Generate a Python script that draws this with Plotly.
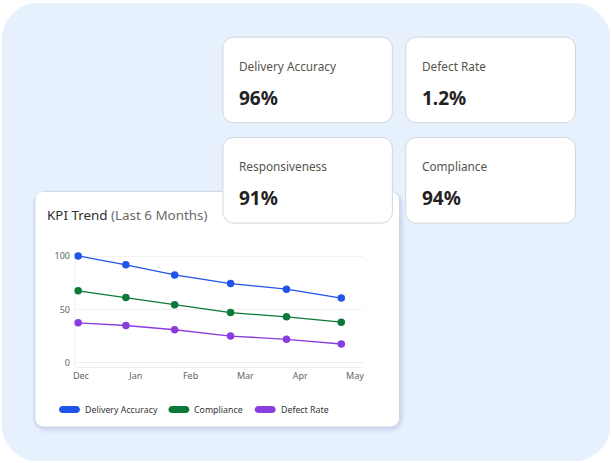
import plotly.graph_objects as go

W, H = 611, 463

# ---------------- data ----------------
months = ["Dec", "Jan", "Feb", "Mar", "Apr", "May"]
month_pos = [0, 1, 2, 3, 4, 5]
# sample positions along the month axis, as drawn
sample_pos = [-0.05, 0.82, 1.71, 2.73, 3.75, 4.75]
delivery_accuracy = [100.3, 91.9, 82.4, 74.3, 69.1, 60.7]
compliance = [67.5, 61.3, 54.5, 47.1, 43.1, 38.1]
defect_rate = [37.5, 35.0, 31.0, 25.1, 22.0, 17.6]
y_ticks = [0, 50, 100]

series_names = ["Delivery Accuracy", "Compliance", "Defect Rate"]
series_values = [delivery_accuracy, compliance, defect_rate]
series_colors = ["#2154e8", "#0b7a38", "#8a3ddf"]

kpi_labels = ["Delivery Accuracy", "Defect Rate", "Responsiveness", "Compliance"]
kpi_values = ["96%", "1.2%", "91%", "94%"]

FONT = "Noto Sans"


def X(x):
    return x / W


def Y(y):
    return 1 - y / H


def rr(x0, y0, x1, y1, r):
    k = 0.5523 * r
    pts = []
    pts.append(f"M{X(x0 + r)},{Y(y0)}")
    pts.append(f"L{X(x1 - r)},{Y(y0)}")
    pts.append(f"C{X(x1 - r + k)},{Y(y0)} {X(x1)},{Y(y0 + r - k)} {X(x1)},{Y(y0 + r)}")
    pts.append(f"L{X(x1)},{Y(y1 - r)}")
    pts.append(f"C{X(x1)},{Y(y1 - r + k)} {X(x1 - r + k)},{Y(y1)} {X(x1 - r)},{Y(y1)}")
    pts.append(f"L{X(x0 + r)},{Y(y1)}")
    pts.append(f"C{X(x0 + r - k)},{Y(y1)} {X(x0)},{Y(y1 - r + k)} {X(x0)},{Y(y1 - r)}")
    pts.append(f"L{X(x0)},{Y(y0 + r)}")
    pts.append(f"C{X(x0)},{Y(y0 + r - k)} {X(x0 + r - k)},{Y(y0)} {X(x0 + r)},{Y(y0)}")
    pts.append("Z")
    return " ".join(pts)


shapes = []
annotations = []

# outer background
shapes.append(dict(type="path", path=rr(0, 0, W, H, 36), xref="paper", yref="paper",
                   fillcolor="#e7f0fd", line=dict(width=0), layer="below"))

# chart card shadow + card
cx0, cy0, cx1, cy1 = 33.5, 191, 399, 428
for i, a in enumerate([0.035, 0.035, 0.04, 0.05]):
    s = 8 - 2 * i
    shapes.append(dict(type="path", path=rr(cx0 - s * 0.4, cy0 - s * 0.2, cx1 + s * 0.7, cy1 + s * 0.9, 8 + s),
                       xref="paper", yref="paper", fillcolor=f"rgba(60,80,130,{a})",
                       line=dict(width=0), layer="below"))
shapes.append(dict(type="path", path=rr(cx0, cy0, cx1, cy1, 8), xref="paper", yref="paper",
                   fillcolor="#ffffff", line=dict(width=0), layer="below"))

# KPI cards
card_boxes = [(222, 34.5, 392.3, 121), (405.7, 34.5, 576.3, 121),
              (222, 136, 392.3, 222.5), (405.7, 136, 576.3, 222.5)]
for (x0, y0, x1, y1), lab, val in zip(card_boxes, kpi_labels, kpi_values):
    shapes.append(dict(type="path", path=rr(x0, y0, x1, y1, 11), xref="paper", yref="paper",
                       fillcolor="#ffffff", line=dict(width=1, color="#d4d6da"), layer="below"))
    annotations.append(dict(x=X(x0 + 14.5), y=Y(y0 + 29), xref="paper", yref="paper",
                            text=lab, showarrow=False, xanchor="left", yanchor="middle",
                            font=dict(family=FONT, size=11.8, color="#55554c")))
    annotations.append(dict(x=X(x0 + 14), y=Y(y0 + 61.5), xref="paper", yref="paper",
                            text=f"<b>{val}</b>", showarrow=False, xanchor="left", yanchor="middle",
                            font=dict(family=FONT, size=19, color="#222222")))

# title
annotations.append(dict(x=X(43), y=Y(214), xref="paper", yref="paper",
                        text="KPI Trend <span style='color:#6b6b6b'>(Last 6 Months)</span>",
                        showarrow=False, xanchor="left", yanchor="middle",
                        font=dict(family=FONT, size=13.4, color="#2e2e2e")))

# legend (custom pills)
leg_x = [57.3, 167.3, 254]
for lx, name, col in zip(leg_x, series_names, series_colors):
    shapes.append(dict(type="path", path=rr(lx, 407.4, lx + 21, 414.6, 3.6), xref="paper", yref="paper",
                       fillcolor=col, line=dict(width=0), layer="above"))
    annotations.append(dict(x=X(lx + 24), y=Y(411.5), xref="paper", yref="paper", text=name,
                            showarrow=False, xanchor="left", yanchor="middle",
                            font=dict(family=FONT, size=8.8, color="#333333")))

# plot frame: left line
shapes.append(dict(type="line", x0=X(73.3), x1=X(73.3), y0=Y(256), y1=Y(368), xref="paper", yref="paper",
                   line=dict(color="#efefef", width=1), layer="below"))

fig = go.Figure()
for name, vals, col in zip(series_names, series_values, series_colors):
    fig.add_trace(go.Scatter(x=sample_pos, y=vals, name=name, mode="lines+markers",
                             line=dict(color=col, width=1.3),
                             marker=dict(color=col, size=7.5),
                             showlegend=False, cliponaxis=False))

y_lo, y_hi = -4, 104
px_per = 112 / 104.0
fig.update_layout(
    width=W, height=H,
    margin=dict(l=0, r=0, t=0, b=0),
    paper_bgcolor="#ffffff",
    plot_bgcolor="rgba(0,0,0,0)",
    shapes=shapes,
    annotations=annotations,
    showlegend=False,
    xaxis=dict(domain=[X(73.3), X(363)], range=[-0.109, 5.15],
               tickvals=month_pos, ticktext=months, showgrid=False, zeroline=False,
               showline=True, linecolor="#eeeeee", linewidth=1, ticks="",
               tickfont=dict(family=FONT, size=9, color="#666666")),
    yaxis=dict(domain=[Y(368), Y(256 - (y_hi - 100) * px_per)], range=[y_lo, y_hi],
               tickvals=y_ticks, showgrid=True, gridcolor="#f1f1f1", gridwidth=1,
               zeroline=False, showline=False, ticks="", ticklabelstandoff=4,
               tickfont=dict(family=FONT, size=9, color="#666666")),
)

fig.write_html("out.html")
